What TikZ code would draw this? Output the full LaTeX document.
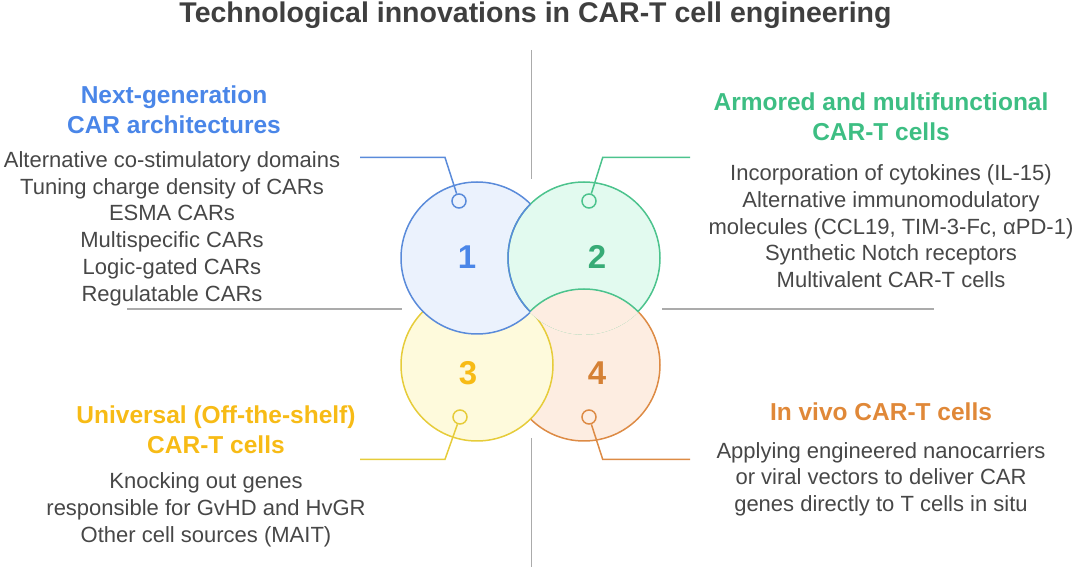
\documentclass[tikz,border=0pt]{standalone}
\usepackage{fontspec}
\setmainfont{Liberation Sans}
\usetikzlibrary{positioning}
\definecolor{carblue}{HTML}{5A8BDA}
\definecolor{carbluefill}{HTML}{EBF2FD}
\definecolor{carbluetext}{HTML}{4A86E8}
\definecolor{cargreen}{HTML}{4CC38D}
\definecolor{cargreenfill}{HTML}{E2FAEF}
\definecolor{cargreentext}{HTML}{3DBE83}
\definecolor{caryellow}{HTML}{E6CC3A}
\definecolor{caryellowfill}{HTML}{FEFADC}
\definecolor{caryellowtext}{HTML}{F7BB16}
\definecolor{carorange}{HTML}{DD8B45}
\definecolor{carorangefill}{HTML}{FDEDE1}
\definecolor{carorangetext}{HTML}{E08838}
\definecolor{cartext}{HTML}{474747}
\definecolor{cartitle}{HTML}{3F3F3F}
\definecolor{cargray}{HTML}{ABABAB}
\tikzset{
  quadhead/.style={
    inner sep=0pt,
    anchor=north,
    align=center,
    font=\bfseries\fontsize{24.5}{30}\selectfont
  },
  quadbody/.style={
    inner sep=0pt,
    align=center,
    text=cartext,
    font=\fontsize{22}{26.8}\selectfont
  },
  bigdisc/.style={circle, minimum size=152pt, inner sep=0pt, line width=1.5pt},
  pindot/.style={circle, minimum size=14pt, inner sep=0pt, line width=1.5pt},
  quadnum/.style={font=\bfseries\fontsize{33}{33}\selectfont},
  leader/.style={line width=1.5pt},
  divider/.style={line width=1.6pt, draw=cargray}
}

\begin{document}
\begin{tikzpicture}[x=1pt, y=-1pt]
\useasboundingbox (0,0) rectangle (1080,569);
\node[anchor=north, inner sep=0pt, text=cartitle, font=\bfseries\fontsize{28.5}{32}\selectfont] (title) at (535.5,2) {Technological innovations in CAR-T cell engineering};
% dividers
\draw[divider] (531.5,50) -- (531.5,179);
\draw[divider] (531.5,438) -- (531.5,567);
\draw[divider] (127,309) -- (402,309);
\draw[divider] (662,309) -- (934,309);
% circles
\node[bigdisc, draw=carorange, fill=carorangefill] (c4) at (584,365) {};
\node[bigdisc, draw=caryellow, fill=caryellowfill] (c3) at (477,365) {};
\node[bigdisc, draw=carblue, fill=carbluefill] (c1) at (477,258) {};
\node[bigdisc, draw=cargreen, fill=cargreenfill] (c2) at (584,258) {};
\begin{scope}
\clip (c2.center) circle[radius=76.8pt];
\fill[carorangefill] (c4.center) circle[radius=76pt];
\draw[cargreen, line width=1.5pt] (c4.center) circle[radius=76pt];
\end{scope}
\begin{scope}
\clip (c1.center) circle[radius=76pt];
\draw[carblue, line width=1.5pt] (c2.center) circle[radius=76pt];
\end{scope}
\node[quadnum, text=carbluetext] (n1) at (467,257) {1};
\node[quadnum, text=cargreentext!90!black] (n2) at (597,257) {2};
\node[quadnum, text=caryellowtext] (n3) at (468,373) {3};
\node[quadnum, text=carorangetext!95!black] (n4) at (597,373) {4};
% pins and leaders
\node[pindot, draw=carblue, fill=carbluefill] (d1) at (459,201) {};
\node[pindot, draw=cargreen, fill=cargreenfill] (d2) at (589,201) {};
\node[pindot, draw=caryellow, fill=caryellowfill] (d3) at (460,417) {};
\node[pindot, draw=carorange, fill=carorangefill] (d4) at (589,417) {};
\coordinate (k1) at (445,157.5);
\coordinate (e1) at (360,157.5);
\coordinate (k2) at (602.7,157.5);
\coordinate (e2) at (690,157.5);
\coordinate (k3) at (445,459.3);
\coordinate (e3) at (360,459.3);
\coordinate (k4) at (602.7,459.3);
\coordinate (e4) at (690,459.3);
\draw[leader, carblue] (d1) -- (k1) -- (e1);
\draw[leader, cargreen] (d2) -- (k2) -- (e2);
\draw[leader, caryellow] (d3) -- (k3) -- (e3);
\draw[leader, carorange] (d4) -- (k4) -- (e4);
% quadrant texts
\node[quadhead, text=carbluetext] (h1) at (174,86) {Next-generation\\CAR architectures};
\node[quadbody, below=16.8pt of h1, xshift=-2pt] (b1) {Alternative co-stimulatory domains\\Tuning charge density of CARs\\ESMA CARs\\Multispecific CARs\\Logic-gated CARs\\Regulatable CARs};
\node[quadhead, text=cargreentext] (h2) at (881,93) {Armored and multifunctional\\CAR-T cells};
\node[quadbody, below=23pt of h2, xshift=10pt] (b2) {Incorporation of cytokines (IL-15)\\Alternative immunomodulatory\\molecules (CCL19, TIM-3-Fc, αPD-1)\\Synthetic Notch receptors\\Multivalent CAR-T cells};
\node[quadhead, text=caryellowtext] (h3) at (216,406) {Universal (Off-the-shelf)\\CAR-T cells};
\node[quadbody, below=18pt of h3, xshift=-10pt] (b3) {Knocking out genes\\responsible for GvHD and HvGR\\Other cell sources (MAIT)};
\node[quadhead, text=carorangetext] (h4) at (881,403) {In vivo CAR-T cells};
\node[quadbody, below=20.5pt of h4] (b4) {Applying engineered nanocarriers\\or viral vectors to deliver CAR\\genes directly to T cells in situ};
\end{tikzpicture}
\end{document}
